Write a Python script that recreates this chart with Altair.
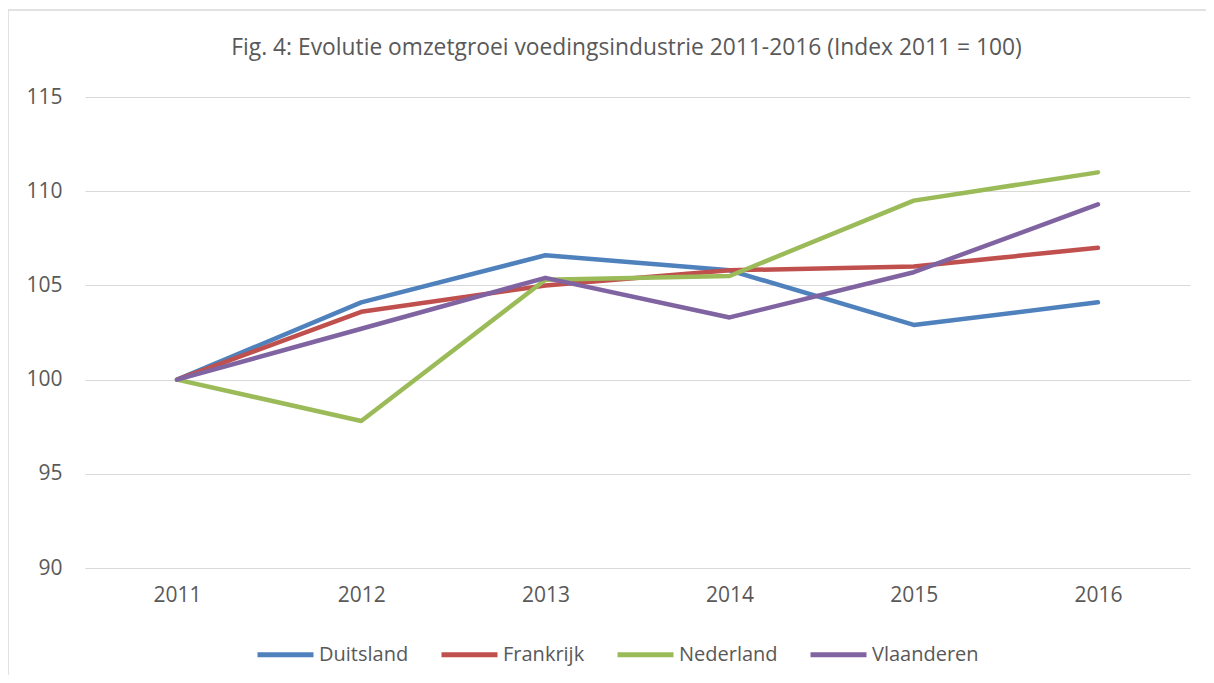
import altair as alt
import pandas as pd

years = ["2011", "2012", "2013", "2014", "2015", "2016"]
duitsland = [100, 104.1, 106.6, 105.8, 102.9, 104.1]
frankrijk = [100, 103.6, 105.0, 105.8, 106.0, 107.0]
nederland = [100, 97.8, 105.3, 105.5, 109.5, 111.0]
vlaanderen = [100, 102.7, 105.4, 103.3, 105.7, 109.3]

series = ["Duitsland", "Frankrijk", "Nederland", "Vlaanderen"]
colors = ["#4F81BD", "#C0504D", "#9BBB59", "#8064A2"]

rows = []
for name, vals in zip(series, [duitsland, frankrijk, nederland, vlaanderen]):
    for y, v in zip(years, vals):
        rows.append({"jaar": y, "land": name, "index": v})
df = pd.DataFrame(rows)

FONT = "Open Sans"
W, H = 1105, 471

border = alt.Chart(pd.DataFrame({"a": [0]})).mark_rect(
    filled=False, stroke="#D9D9D9", strokeWidth=1.5, clip=False
).encode(
    x=alt.value(-77), x2=alt.value(W + 30),
    y=alt.value(-87), y2=alt.value(H + 130),
)

lines = alt.Chart(df).mark_line(strokeWidth=4.5, strokeCap="round", strokeJoin="round").encode(
    x=alt.X("jaar:O", sort=years, title=None,
            scale=alt.Scale(type="point", padding=0.5),
            axis=alt.Axis(labelAngle=0, ticks=False, domain=True, domainColor="#D9D9D9",
                          labelPadding=16, labelFontSize=21, labelColor="#595959",
                          labelFont=FONT, grid=False)),
    y=alt.Y("index:Q", title=None,
            scale=alt.Scale(domain=[90, 115], nice=False, zero=False),
            axis=alt.Axis(values=[90, 95, 100, 105, 110, 115], ticks=False, domain=False,
                          gridColor="#D9D9D9", gridWidth=1.2, labelPadding=23,
                          labelFontSize=21, labelColor="#595959", labelFont=FONT)),
    color=alt.Color("land:N", sort=series,
                    scale=alt.Scale(domain=series, range=colors),
                    legend=alt.Legend(title=None, orient="none", direction="horizontal",
                                      legendX=170, legendY=527,
                                      symbolType="stroke", symbolSize=3136,
                                      symbolStrokeWidth=5, labelFontSize=20,
                                      labelFont=FONT, labelColor="#595959",
                                      labelOffset=3, columnPadding=22)),
)

chart = alt.layer(border, lines).properties(
    width=W, height=H,
    title=alt.TitleParams(
        "Fig. 4: Evolutie omzetgroei voedingsindustrie 2011-2016 (Index 2011 = 100)",
        font=FONT, fontSize=22.8, fontWeight="normal", color="#595959",
        anchor="middle", offset=-51, dx=-11),
    autosize=alt.AutoSizeParams(type="none"),
    padding={"left": 77, "top": 89, "right": 16, "bottom": 107},
).configure_view(stroke=None)

chart.save("out.html", embed_options={"renderer": "svg", "actions": False})
